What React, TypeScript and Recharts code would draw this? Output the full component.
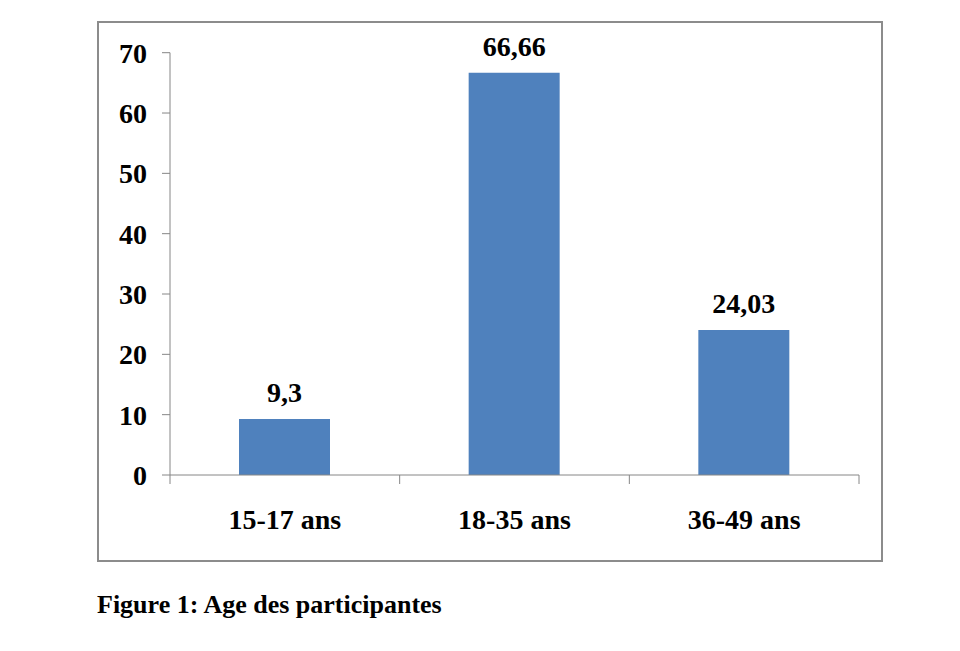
import { BarChart, Bar, XAxis, YAxis, LabelList } from 'recharts';

const categories = ['15-17 ans', '18-35 ans', '36-49 ans'];
const values = [9.3, 66.66, 24.03];
const yTicks = [0, 10, 20, 30, 40, 50, 60, 70];

const FONT = "'Liberation Serif', 'Times New Roman', serif";
const AXIS = '#868686';
const PLOT_LEFT = 170;
const PLOT_RIGHT = 859;
const BAND = (PLOT_RIGHT - PLOT_LEFT) / categories.length;

const data = categories.map((c, i) => ({ name: c, value: values[i] }));

function fmt(v: number): string {
  return String(v).replace('.', ',');
}

function XTick(props: any) {
  const { x, y, payload, index } = props;
  const half = BAND / 2;
  return (
    <g>
      <line x1={x - half} x2={x - half} y1={y} y2={y + 9} stroke={AXIS} />
      {index === categories.length - 1 && (
        <line x1={x + half} x2={x + half} y1={y} y2={y + 9} stroke={AXIS} />
      )}
      <text x={x} y={y + 54} textAnchor="middle" fontFamily={FONT} fontWeight="bold" fontSize={28} fill="#000">
        {payload.value}
      </text>
    </g>
  );
}

export default function App() {
  return (
    <div style={{ position: 'absolute', left: 0, top: 0, width: 960, height: 651, background: '#fff' }}>
      <div
        style={{
          position: 'absolute', left: 97, top: 21, width: 782, height: 537,
          border: '2px solid #8c8c8c',
        }}
      />
      <div style={{ position: 'absolute', left: 0, top: 0 }}>
        <BarChart
          width={960}
          height={651}
          data={data}
          margin={{ top: 52.7, right: 960 - PLOT_RIGHT, bottom: 146, left: 110 }}
        >
          <XAxis
            dataKey="name"
            height={30}
            stroke={AXIS}
            tickLine={false}
            tickSize={0}
            tickMargin={0}
            tick={<XTick />}
            interval={0}
          />
          <YAxis
            width={60}
            domain={[0, 70]}
            ticks={yTicks}
            stroke={AXIS}
            tickSize={8}
            tickMargin={15}
            tick={{ fontFamily: FONT, fontWeight: 'bold', fontSize: 28, fill: '#000' }}
          />
          <Bar dataKey="value" fill="#4F81BD" barSize={91} isAnimationActive={false}>
            <LabelList
              dataKey="value"
              position="top"
              offset={17}
              formatter={(v: any) => fmt(Number(v))}
              style={{ fontFamily: FONT, fontWeight: 'bold', fontSize: 28, fill: '#000' }}
            />
          </Bar>
        </BarChart>
      </div>
      <div
        style={{
          position: 'absolute', left: 97, top: 591, fontFamily: FONT, fontWeight: 'bold',
          fontSize: 26, lineHeight: '28px', color: '#000', whiteSpace: 'nowrap',
        }}
      >
        Figure 1: Age des participantes
      </div>
    </div>
  );
}
